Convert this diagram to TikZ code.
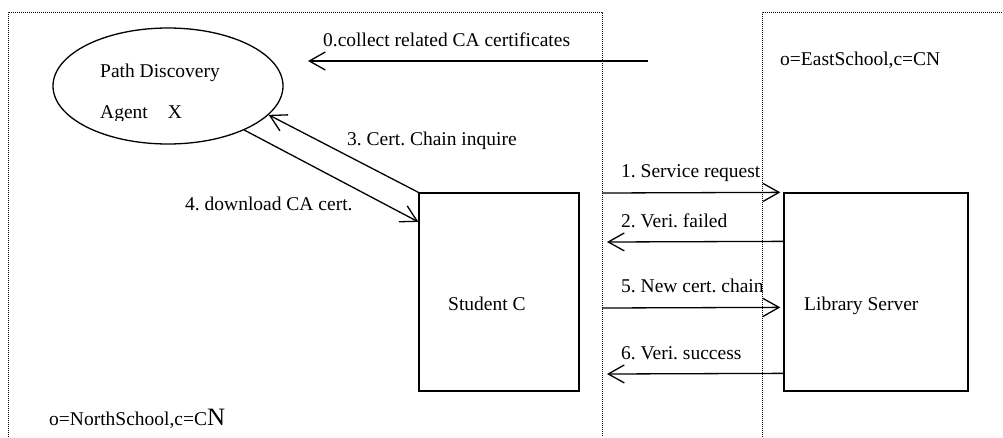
\documentclass[tikz,border=0pt]{standalone}
\usepackage{fontspec}
\setmainfont{Liberation Serif}
\usetikzlibrary{arrows.meta,shapes.geometric}
\frenchspacing
\begin{document}
\frenchspacing
\begin{tikzpicture}[x=1pt,y=-1pt,
  zone/.style={line width=1pt, dash pattern=on 1pt off 1pt},
  box/.style={draw, line width=1.3pt, rectangle, inner sep=0pt},
  txt/.style={inner sep=0pt, anchor=west, text height=0.7em, text depth=0.25em, font=\fontsize{19.5}{22}\selectfont},
  msg/.style={line width=1.3pt, -{Straight Barb[length=16pt,width=18pt]}},
]
\useasboundingbox (0,0) rectangle (1003,437);
% zones
\draw[zone] (8,437) -- (8,12) -- (602,12) -- (602,437);
\draw[zone] (762,437) -- (762,12) -- (1003,12);
% main nodes
\node[draw, ellipse, line width=1.3pt, minimum width=230pt, minimum height=116pt, inner sep=0pt] (agent) at (168,86) {};
\node[box, minimum width=160pt, minimum height=198pt] (student) at (499,292) {};
\node[box, minimum width=184pt, minimum height=198pt] (library) at (876,292) {};
% texts
\node[txt] (tpath) at (100,75.5) {Path Discovery};
\begin{scope}
  \clip (40,60) rectangle (300,120.5);
  \node[txt] (tagent) at (100,116.5) {Agent\hspace{20pt}X};
\end{scope}
\node[txt] (tstudent) at (448,308.5) {Student C};
\node[txt] (tlibrary) at (804,308) {Library Server};
\node[txt] (teast) at (780,63.5) {o=EastSchool,c=CN};
\node[txt] (tnorth) at (49,423) {o=NorthSchool,c=C{\fontsize{25}{26}\selectfont N}};
% labels
\node[txt] (l0) at (323,44.5) {0.collect related CA certificates};
\node[txt] (l3) at (347,143.5) {3. Cert. Chain inquire};
\node[txt] (l4) at (185,208.5) {4. download CA cert.};
\node[txt] (l1) at (621,175.5) {1. Service request};
\node[txt] (l2) at (621,225.5) {2. Veri. failed};
\node[txt] (l5) at (621,290.5) {5. New cert. chain};
\node[txt] (l6) at (621,357.5) {6. Veri. success};
% connectors
\coordinate (c0s) at (648,61);
\coordinate (c0e) at (308,61);
\draw[msg] (c0s) -- (c0e);
\draw[msg] (student.north west) -- (agent.-16);
\draw[msg] (agent.-30) -- (student.139);
\coordinate (c1s) at (602,193);
\draw[msg, shorten >=3pt] (c1s) -- (library.north west);
\coordinate (c2e) at (607,242);
\draw[msg] ([yshift=-49pt]library.north west) -- (c2e);
\coordinate (c5s) at (602,308);
\draw[msg, shorten >=3pt] (c5s) -- ([yshift=-115pt]library.north west);
\coordinate (c6e) at (607,374);
\draw[msg] ([yshift=-181pt]library.north west) -- (c6e);
\end{tikzpicture}
\end{document}
